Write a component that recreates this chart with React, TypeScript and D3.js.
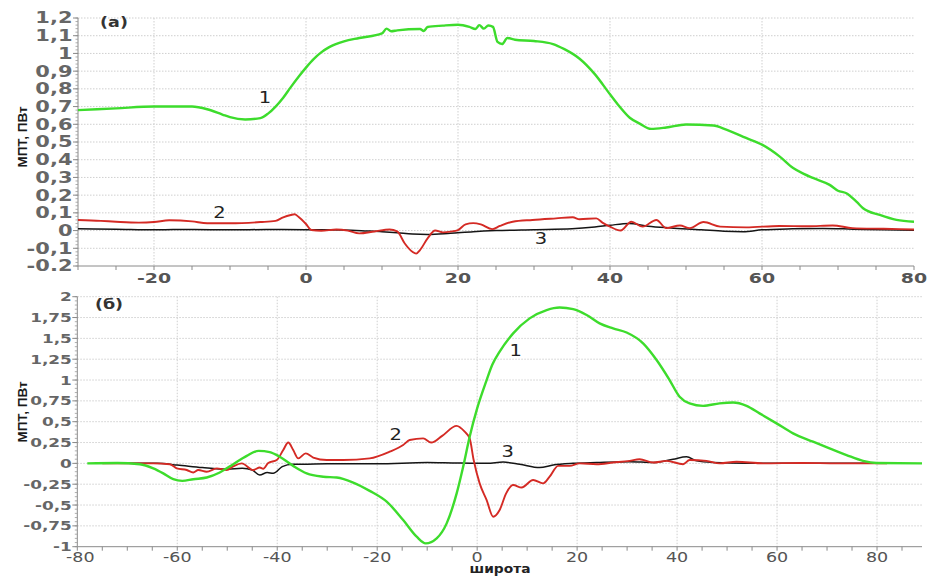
import React from 'react';
import * as d3 from 'd3';

type Pt = [number, number];

// (a) series: latitude, PW
const topGreen: Pt[] = [
  [-30, 0.68], [-25, 0.69], [-20, 0.7], [-15, 0.7], [-13, 0.685], [-11, 0.655], [-10, 0.64], [-8, 0.627],
  [-6, 0.635], [-5, 0.66], [-4, 0.7], [-3, 0.75], [-2, 0.81], [-1, 0.867], [0, 0.92], [1, 0.968], [2, 1.006],
  [3, 1.034], [5, 1.068], [7, 1.087], [10, 1.113], [10.6, 1.14], [11.2, 1.125], [12, 1.13], [15, 1.138],
  [15.5, 1.127], [16, 1.149], [18, 1.157], [20, 1.162], [21.5, 1.15], [22.3, 1.138], [22.8, 1.16], [23.4, 1.14],
  [24, 1.158], [24.6, 1.15], [25.2, 1.065], [25.8, 1.053], [26.5, 1.087], [27.5, 1.077], [30, 1.07], [32.5, 1.053],
  [34, 1.024], [36, 0.97], [38, 0.883], [40, 0.769], [41.2, 0.703], [42.6, 0.637], [43.9, 0.604], [45.4, 0.574],
  [47.4, 0.582], [50, 0.599], [53.6, 0.593], [55.3, 0.57], [57.9, 0.523], [60, 0.485], [62.3, 0.419], [64.1, 0.353],
  [65.5, 0.32], [66.7, 0.297], [68.9, 0.258], [70, 0.225], [71.1, 0.211], [72.5, 0.16], [73.3, 0.126],
  [75.5, 0.088], [77.7, 0.06], [80, 0.05],
];
const topRed: Pt[] = [
  [-30, 0.06], [-27, 0.055], [-25, 0.05], [-22, 0.045], [-20, 0.048], [-18, 0.058], [-15, 0.052], [-13, 0.041],
  [-10, 0.041], [-6, 0.048], [-4, 0.055], [-3, 0.075], [-2, 0.088], [-1.5, 0.092], [-1, 0.078], [0, 0.037],
  [0.7, 0.003], [2, -0.001], [4, 0.006], [5.5, 0], [7, -0.016], [9, -0.005], [11, 0.006], [12, -0.005],
  [13, -0.073], [14, -0.12], [14.5, -0.13], [15, -0.11], [16, -0.044], [17, 0], [18, -0.01], [19, -0.006],
  [20, 0.003], [21, 0.035], [22, 0.042], [23, 0.035], [24.5, 0.008], [25.5, 0.026], [27.2, 0.05], [29.8, 0.06],
  [32.9, 0.069], [35.1, 0.075], [36, 0.064], [38.2, 0.069], [39, 0.045], [40, 0.022], [41.4, 0], [42.8, 0.05],
  [44.3, 0.022], [46.1, 0.06], [47.4, 0.014], [49.2, 0.029], [50.5, 0.014], [52.3, 0.048], [54.5, 0.022],
  [57.9, 0.018], [62.3, 0.026], [66, 0.024], [69.3, 0.029], [71.9, 0.014], [76, 0.01], [80, 0.006],
];
const topBlack: Pt[] = [
  [-30, 0.01], [-25, 0.008], [-20, 0.005], [-15, 0.006], [-10, 0.004], [-5, 0.006], [0, 0.005], [5, 0.003],
  [8, -0.002], [10, -0.006], [12, -0.012], [14, -0.02], [16, -0.022], [19, -0.015], [22, -0.006], [25, 0],
  [30, 0.005], [35, 0.01], [38, 0.02], [40, 0.03], [42.5, 0.04], [45, 0.025], [48, 0.015], [52, 0.005],
  [55, -0.004], [57.5, -0.006], [60, 0.004], [64, 0.01], [68, 0.012], [72, 0.008], [76, 0.004], [80, 0.002],
];

// (б) series
const botGreen: Pt[] = [
  [-78, 0], [-72, 0.005], [-67.5, -0.01], [-64.8, -0.06], [-62.8, -0.12], [-60.8, -0.19], [-59, -0.21],
  [-56.8, -0.19], [-54.1, -0.17], [-51.5, -0.11], [-48.8, -0.01], [-46.1, 0.09], [-43.7, 0.15], [-41.5, 0.135],
  [-39.5, 0.08], [-36.8, -0.03], [-34.1, -0.12], [-30.8, -0.16], [-28.1, -0.17], [-24.8, -0.23], [-21.5, -0.33],
  [-18.1, -0.46], [-14.8, -0.68], [-12.1, -0.88], [-10.3, -0.96], [-8.1, -0.9], [-6.1, -0.72], [-4.1, -0.36],
  [-2.8, -0.04], [-1.5, 0.32], [0, 0.66], [1.9, 1.0], [3, 1.18], [4.5, 1.34], [7.2, 1.56], [10.5, 1.74],
  [13.9, 1.84], [16.5, 1.87], [19.2, 1.85], [21.9, 1.78], [24.5, 1.68], [27.2, 1.62], [29.9, 1.57], [33.2, 1.44],
  [35.9, 1.24], [38.5, 1.0], [40.5, 0.8], [42.5, 0.72], [45.2, 0.69], [48.5, 0.72], [51.2, 0.73], [53.9, 0.69],
  [56.5, 0.6], [59.9, 0.48], [63.2, 0.36], [67.2, 0.26], [70.5, 0.18], [73.9, 0.1], [77.2, 0.03], [79.9, 0.005],
  [89, 0],
];
const botRed: Pt[] = [
  [-75, 0], [-68, 0], [-64.8, 0], [-61.5, -0.01], [-60.1, -0.06], [-58.1, -0.08], [-56.8, -0.11], [-55.8, -0.08],
  [-54.1, -0.1], [-52.1, -0.06], [-50.1, -0.08], [-48.8, -0.035], [-47.1, 0], [-44.8, -0.08], [-43.5, -0.05],
  [-42.8, -0.065], [-41.8, 0.005], [-40.1, 0.04], [-38.8, 0.16], [-37.8, 0.25], [-36.8, 0.16], [-35.8, 0.06],
  [-34.3, 0.12], [-32.8, 0.07], [-30.1, 0.04], [-26.8, 0.04], [-21.5, 0.06], [-17.5, 0.14], [-14.8, 0.22],
  [-13.5, 0.28], [-10.8, 0.3], [-9.2, 0.25], [-7, 0.33], [-4.1, 0.45], [-2.5, 0.38], [-1.5, 0.3], [-0.7, 0.04],
  [0.5, -0.24], [1.9, -0.44], [3.2, -0.64], [4.5, -0.56], [5.8, -0.36], [7.2, -0.26], [8.9, -0.29], [11.2, -0.2],
  [13.2, -0.24], [14.5, -0.16], [16.2, -0.03], [18.5, -0.03], [20.5, 0], [23.9, -0.01], [27.2, 0.01], [30.5, 0.03],
  [32.5, 0.05], [35.2, 0.01], [37.9, 0.03], [41.2, -0.01], [42.5, 0.04], [45.9, 0.03], [48.5, 0], [51.9, 0.02],
  [57.2, 0], [65, 0.005], [72, 0], [82, 0],
];
const botBlack: Pt[] = [
  [-72, 0], [-64, 0], [-60, -0.02], [-55, -0.05], [-50, -0.07], [-47, -0.06], [-45, -0.08], [-43.5, -0.14],
  [-42, -0.11], [-40.8, -0.12], [-39, -0.04], [-37, -0.01], [-35, -0.01], [-30, -0.005], [-20, -0.005],
  [-10, 0.01], [-5, 0.005], [0, 0], [2, 0], [5.2, 0.015], [8.5, -0.01], [12.5, -0.05], [15.2, -0.02], [19.2, 0],
  [23.9, 0.01], [30.5, 0.02], [35.2, 0.01], [39.2, 0.05], [41.9, 0.08], [43.9, 0.03], [47.2, 0.01], [53.9, 0],
  [65, 0], [80, 0],
];

const topYTicks = [1.2, 1.1, 1, 0.9, 0.8, 0.7, 0.6, 0.5, 0.4, 0.3, 0.2, 0.1, 0, -0.1, -0.2];
const topYLabels = ['1,2', '1,1', '1', '0,9', '0,8', '0,7', '0,6', '0,5', '0,4', '0,3', '0,2', '0,1', '0', '-0,1', '-0.2'];
const topXTicks = [-20, 0, 20, 40, 60, 80];
const botYTicks = [2, 1.75, 1.5, 1.25, 1, 0.75, 0.5, 0.25, 0, -0.25, -0.5, -0.75, -1];
const botYLabels = ['2', '1,75', '1,5', '1,25', '1', '0,75', '0,5', '0,25', '0', '-0,25', '-0,5', '-0,75', '-1'];
const botXTicks = [-80, -60, -40, -20, 0, 20, 40, 60, 80];

const topNotes: [string, number, number][] = [['1', -5.4, 0.75], ['2', -11.4, 0.1], ['3', 30.9, -0.043]];
const botNotes: [string, number, number][] = [['1', 7.7, 1.36], ['2', -16.3, 0.35], ['3', 6.1, 0.14]];

const GREEN = '#3ddc2c';
const RED = '#d42a24';
const BLACK = '#151515';

type PanelProps = {
  xDomain: [number, number];
  xRange: [number, number];
  yDomain: [number, number];
  yRange: [number, number];
  xTicks: number[];
  xMinor: number[];
  yTicks: number[];
  yLabels: string[];
  yMinor: number[];
  series: Pt[][];
  notes: [string, number, number][];
  tag: string;
  tagX: number;
  tagY: number;
  yFont: number;
  yStretch: number;
  xFont: number;
  xStretch: number;
  xBold: boolean;
  xLabelGap: number;
  titleY: number;
};

function Panel(p: PanelProps) {
  const x = d3.scaleLinear().domain(p.xDomain).range(p.xRange);
  const y = d3.scaleLinear().domain(p.yDomain).range(p.yRange);
  const [x0, x1] = p.xRange;
  const [yb, yt] = p.yRange;
  const line = d3.line<Pt>().x(d => x(d[0])).y(d => y(d[1])).curve(d3.curveMonotoneX);
  const colors = [GREEN, RED, BLACK];
  const widths = [2.4, 1.9, 1.5];
  return (
    <g>
      {/* grid */}
      {p.yTicks.filter(t => y(t) < yb - 1).map(t => (
        <line key={'gy' + t} x1={x0} x2={x1} y1={y(t)} y2={y(t)} stroke="#cfcfcf" strokeDasharray="1.5,1.5" strokeWidth={1} />
      ))}
      {p.xTicks.filter(t => x(t) > x0 + 1 && x(t) < x1 - 1).map(t => (
        <line key={'gx' + t} x1={x(t)} x2={x(t)} y1={yt} y2={yb} stroke="#cfcfcf" strokeDasharray="1.5,1.5" strokeWidth={1} />
      ))}
      {/* axes */}
      <line x1={x0} x2={x1} y1={yb} y2={yb} stroke="#8a8a8a" />
      <line x1={x0} x2={x0} y1={yt} y2={yb} stroke="#8a8a8a" />
      {p.xMinor.map(t => (
        <line key={'xm' + t} x1={x(t)} x2={x(t)} y1={yb} y2={yb + 4} stroke="#8a8a8a" />
      ))}
      {p.yMinor.map(t => (
        <line key={'ym' + t} x1={x0 - 2.5} x2={x0} y1={y(t)} y2={y(t)} stroke="#9a9a9a" strokeWidth={0.8} />
      ))}
      {p.yTicks.map(t => (
        <line key={'yt' + t} x1={x0 - 5} x2={x0} y1={y(t)} y2={y(t)} stroke="#8a8a8a" />
      ))}
      {p.yTicks.map((t, i) => (
        <text key={'yl' + t} transform={`translate(${x0 - 5.5},${y(t) + p.yFont * 0.36}) scale(${p.yStretch},1)`}
          textAnchor="end" fontSize={p.yFont} fontWeight="bold" fill="#666">{p.yLabels[i]}</text>
      ))}
      {p.xTicks.map(t => (
        <text key={'xl' + t} transform={`translate(${x(t) + (t === p.xDomain[0] ? 3 : 0)},${yb + p.xLabelGap}) scale(${p.xStretch},1)`}
          textAnchor="middle" fontSize={p.xFont} fontWeight={p.xBold ? 'bold' : 'normal'} fill="#555">{t}</text>
      ))}
      {/* curves */}
      {p.series.map((s, i) => (
        <path key={'s' + i} d={line(s) || ''} fill="none" stroke={colors[i]} strokeWidth={widths[i]} strokeLinejoin="round" />
      )).reverse()}
      {p.notes.map(([n, lx, ly]) => (
        <text key={'n' + n} transform={`translate(${x(lx)},${y(ly) + 5.5}) scale(1.3,1)`} textAnchor="middle"
          fontSize={15} fill="#222">{n}</text>
      ))}
      <text transform={`translate(${p.tagX},${p.tagY}) scale(1.25,1)`} textAnchor="middle" fontSize={14}
        fontWeight="bold" fill="#333">{p.tag}</text>
      <text transform={`translate(27,${p.titleY}) rotate(-90)`} textAnchor="middle" fontSize={13.5}
        fontFamily="'Liberation Sans', Arial, sans-serif" fontWeight="bold" fill="#1a1a1a">МПТ, ПВт</text>
    </g>
  );
}

export default function App() {
  return (
    <svg width={928} height={576} style={{ position: 'absolute', left: 0, top: 0, background: '#fff' }}
      fontFamily="'DejaVu Sans', Verdana, sans-serif">
      <Panel
        xDomain={[-30, 80]} xRange={[78, 914]} yDomain={[-0.2, 1.2]} yRange={[266, 18]}
        xTicks={topXTicks} xMinor={d3.range(-30, 81, 5)}
        yTicks={topYTicks} yLabels={topYLabels} yMinor={d3.range(-0.2, 1.2001, 0.02)}
        series={[topGreen, topRed, topBlack]} notes={topNotes}
        tag="(a)" tagX={114} tagY={27} yFont={15} yStretch={1.4} xFont={14} xStretch={1.35} xBold={true}
        xLabelGap={17} titleY={137}
      />
      <Panel
        xDomain={[-80, 89]} xRange={[77.3, 922]} yDomain={[-1, 2]} yRange={[546.7, 296.7]}
        xTicks={botXTicks} xMinor={d3.range(-80, 90, 5)}
        yTicks={botYTicks} yLabels={botYLabels} yMinor={d3.range(-1, 2.001, 0.05)}
        series={[botGreen, botRed, botBlack]} notes={botNotes}
        tag="(б)" tagX={109} tagY={309} yFont={12.5} yStretch={1.35} xFont={14} xStretch={1.25} xBold={false}
        xLabelGap={15.5} titleY={412}
      />
      <text transform="translate(500,573) scale(1.15,1)" textAnchor="middle" fontSize={12} fontWeight="bold"
        fill="#222">широта</text>
    </svg>
  );
}
